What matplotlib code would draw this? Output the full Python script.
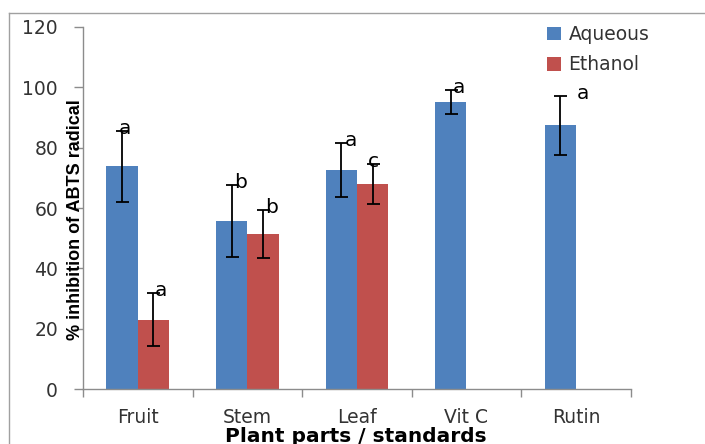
import matplotlib
matplotlib.use("Agg")
import matplotlib.pyplot as plt
import numpy as np
from matplotlib.lines import Line2D

categories = ["Fruit", "Stem", "Leaf", "Vit C", "Rutin"]
aqueous = [73.8, 55.7, 72.6, 95.2, 87.4]
aqueous_err = [11.8, 11.8, 8.8, 3.9, 9.7]
ethanol = [22.9, 51.4, 68.0, np.nan, np.nan]
ethanol_err = [8.8, 8.0, 6.6, np.nan, np.nan]
aqueous_letters = ["a", "b", "a", "a", "a"]
ethanol_letters = ["a", "b", "c", None, None]

# letter x offsets in pixels (layout only)
aq_dx = [3, 9, 10, 8, 23]
eth_dx = [8, 9, 1, 0, 0]

W, H = 705, 444
BLUE = "#4F81BD"
RED = "#C0504D"
AXC = "#8C8C8C"
TXT = "#333333"


def px_to_pt(p):
    return p * 72 / 100


def main():
    fig = plt.figure(figsize=(W / 100, H / 100), dpi=100)
    # outer chart frame (partly outside the image)
    fig.add_artist(Line2D([9 / W, 9 / W], [-0.1, 1 - 13 / H], color="#A0A0A0", lw=1.0))
    fig.add_artist(Line2D([9 / W, 1.1], [1 - 13 / H, 1 - 13 / H], color="#A0A0A0", lw=1.0))

    left, right, bottom, top = 83 / W, 630.7 / W, 1 - 389 / H, 1 - 27 / H
    ax = fig.add_axes([left, bottom, right - left, top - bottom])

    x = np.arange(len(categories))
    bw = 0.286
    ekw = dict(ecolor="black", elinewidth=1.3, capsize=px_to_pt(6.5), capthick=1.3)
    ax.bar(x - bw / 2, aqueous, bw, color=BLUE, yerr=aqueous_err, error_kw=ekw, label="Aqueous")
    ax.bar(x + bw / 2, ethanol, bw, color=RED, yerr=ethanol_err, error_kw=ekw, label="Ethanol")

    for i in range(len(categories)):
        ax.annotate(aqueous_letters[i], (x[i] - bw / 2, aqueous[i] + aqueous_err[i]),
                    xytext=(px_to_pt(aq_dx[i]), px_to_pt(-3)), textcoords="offset points",
                    ha="center", va="baseline", fontsize=14.5, color="black")
        if ethanol_letters[i]:
            ax.annotate(ethanol_letters[i], (x[i] + bw / 2, ethanol[i] + ethanol_err[i]),
                        xytext=(px_to_pt(eth_dx[i]), px_to_pt(-3)), textcoords="offset points",
                        ha="center", va="baseline", fontsize=14.5, color="black")

    ax.set_xlim(-0.5, len(categories) - 0.5)
    ax.set_ylim(0, 120)
    ax.set_yticks(np.arange(0, 121, 20))
    ax.set_xticks(x)
    ax.set_xticklabels(categories)
    ax.set_xticks(np.arange(-0.5, len(categories), 1), minor=True)
    ax.tick_params(axis="x", which="major", length=0, pad=px_to_pt(19), labelsize=13.5, labelcolor=TXT)
    ax.tick_params(axis="x", which="minor", length=px_to_pt(8), width=1, color=AXC, direction="out")
    ax.tick_params(axis="y", length=px_to_pt(9), width=1, color=AXC, pad=px_to_pt(16),
                   labelsize=13.5, labelcolor=TXT)
    for s in ["top", "right"]:
        ax.spines[s].set_visible(False)
    for s in ["left", "bottom"]:
        ax.spines[s].set_color(AXC)
        ax.spines[s].set_linewidth(1.0)

    leg = ax.legend(loc="upper left", bbox_to_anchor=(547 / W, 1 - 25 / H),
                    bbox_transform=fig.transFigure, frameon=False, fontsize=13.5,
                    handlelength=0.75, handleheight=0.75, handletextpad=0.4,
                    labelspacing=0.6, borderpad=0, borderaxespad=0)
    for t in leg.get_texts():
        t.set_color(TXT)

    fig.text(76 / W, 1 - 220 / H, "% inhibition of ABTS radical", rotation=90,
             ha="center", va="center", fontsize=13, fontweight="bold",
             family="Liberation Sans", color="black")
    fig.text(356 / W, 1 - 442 / H, "Plant parts / standards", ha="center", va="baseline",
             fontsize=14.5, fontweight="bold", color="black")

    fig.savefig("out.png", dpi=100)
    plt.close(fig)


if __name__ == "__main__":
    main()
